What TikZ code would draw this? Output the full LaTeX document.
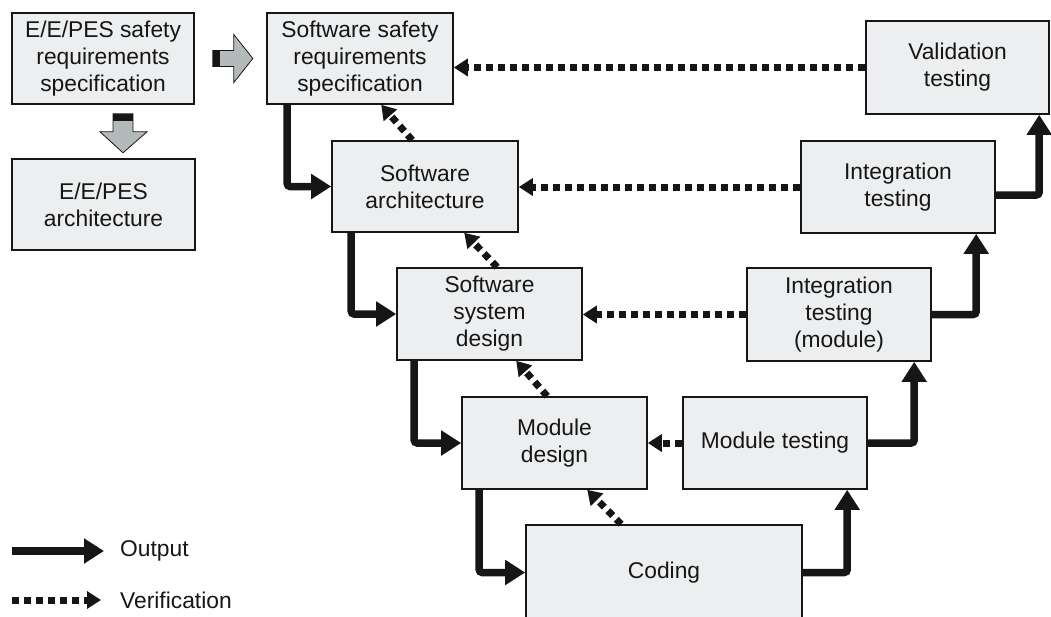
\documentclass[tikz,border=0pt]{standalone}
\usepackage{fontspec}
\setmainfont{Liberation Sans}
\usetikzlibrary{arrows.meta,calc}
\definecolor{boxfill}{HTML}{ECEEEF}
\definecolor{ink}{HTML}{161616}
\definecolor{blockgray}{HTML}{B4B9B9}
\begin{document}
\begin{tikzpicture}[x=1pt,y=-1pt,
  box/.style={draw=ink, line width=1.6pt, fill=boxfill, align=center, inner sep=0pt,
    font=\fontsize{22.8}{27}\selectfont, text=ink},
  outarrow/.style={draw=ink, line width=7.5pt, rounded corners=3pt,
    -{Triangle[length=20pt,width=24pt]}},
  verarrow/.style={draw=ink, line width=7pt, dash pattern=on 7pt off 5pt,
    -{Triangle[length=14pt,width=17pt]}},
  legendtext/.style={anchor=west, inner sep=0pt, text=ink, font=\fontsize{22.8}{27}\selectfont},
  blockarrow/.style={fill=blockgray, draw=ink, line width=0.8pt},
]
\useasboundingbox (0,0) rectangle (1051,616);

% System-level boxes
\node[box, minimum width=182pt, minimum height=91pt] (ees) at (103,58.5)
  {E/E/PES safety\\requirements\\specification};
\node[box, minimum width=183pt, minimum height=91pt] (eea) at (103.5,204.5)
  {E/E/PES\\architecture};

% Software development (left leg)
\node[box, minimum width=186pt, minimum height=91pt] (ssrs) at (360,58.5)
  {Software safety\\requirements\\specification};
\node[box, minimum width=186pt, minimum height=91pt] (sa) at (425,186.5)
  {Software\\architecture};
\node[box, minimum width=185pt, minimum height=92pt] (ssd) at (489.5,314)
  {Software\\system\\design};
\node[box, minimum width=185pt, minimum height=92pt] (md) at (554.5,443)
  {Module\\design};
\node[box, minimum width=276pt, minimum height=95pt] (cod) at (664,572.5)
  {Coding};

% Testing (right leg)
\node[box, minimum width=184pt, minimum height=92pt] (mt) at (775,443)
  {Module testing};
\node[box, minimum width=184pt, minimum height=93pt] (itm) at (839,314.5)
  {Integration\\testing\\(module)};
\node[box, minimum width=194pt, minimum height=92pt] (it) at (898,187)
  {Integration\\testing};
\node[box, minimum width=183pt, minimum height=93pt] (vt) at (957.5,67.5)
  {Validation\\testing};

% Block arrows from the system specification
\coordinate (rA) at ($(ees.east)+(18,0)$);
\draw[blockarrow] ($(rA)+(0,-8)$) -- ++(21,0) -- ++(0,-16) -- ($(rA)+(40,0)$)
  -- ($(rA)+(21,24)$) -- ++(0,-16) -- ($(rA)+(0,8)$) -- cycle;
\fill[ink] ($(rA)+(0,-8)$) rectangle ($(rA)+(7,8)$);
\coordinate (dA) at ($(ees.south)+(20,9)$);
\draw[blockarrow] ($(dA)+(-10,0)$) -- ++(20,0) -- ++(0,18) -- ++(14,0)
  -- ($(dA)+(0,39)$) -- ($(dA)+(-23,18)$) -- ++(13,0) -- cycle;
\fill[ink] ($(dA)+(-10,0)$) rectangle ($(dA)+(10,7)$);

% Output flow
\draw[outarrow] ($(ssrs.south west)+(21,0)$) |- (sa.west);
\draw[outarrow] ($(sa.south west)+(20,0)$) |- (ssd.west);
\draw[outarrow] ($(ssd.south west)+(18,0)$) |- (md.west);
\draw[outarrow] ($(md.south west)+(18,0)$) |- (cod.west);
\draw[outarrow] (cod.east) -| ($(mt.south west)+(165,0)$);
\draw[outarrow] (mt.east) -| ($(itm.south west)+(168,0)$);
\draw[outarrow] (itm.east) -| ($(it.south west)+(176,0)$);
\draw[outarrow] ($(it.east)+(0,8)$) -| ($(vt.south west)+(174,0)$);

% Verification flow
\draw[verarrow] (vt.west) -- (vt.west -| ssrs.east);
\draw[verarrow] (it.west) -- (it.west -| sa.east);
\draw[verarrow] (itm.west) -- (itm.west -| ssd.east);
\draw[verarrow] (mt.west) -- (mt.west -| md.east);
\draw[verarrow] ($(sa.north west)+(81,0)$) -- ($(ssrs.south west)+(115,0)$);
\draw[verarrow] ($(ssd.north west)+(101,0)$) -- ($(sa.south west)+(133,0)$);
\draw[verarrow] ($(md.north west)+(86,0)$) -- ($(ssd.south west)+(120,0)$);
\draw[verarrow] ($(cod.north west)+(96,0)$) -- ($(md.south west)+(126,0)$);

% Legend
\coordinate (l1a) at (12,551);
\coordinate (l1b) at (104,551);
\coordinate (l2a) at (12,600);
\coordinate (l2b) at (101,600);
\draw[outarrow] (l1a) -- (l1b);
\draw[verarrow] (l2a) -- (l2b);
\node[legendtext] (lout) at (120,551) {Output};
\node[legendtext] (lver) at (120,600) {Verification};
\end{tikzpicture}
\end{document}
